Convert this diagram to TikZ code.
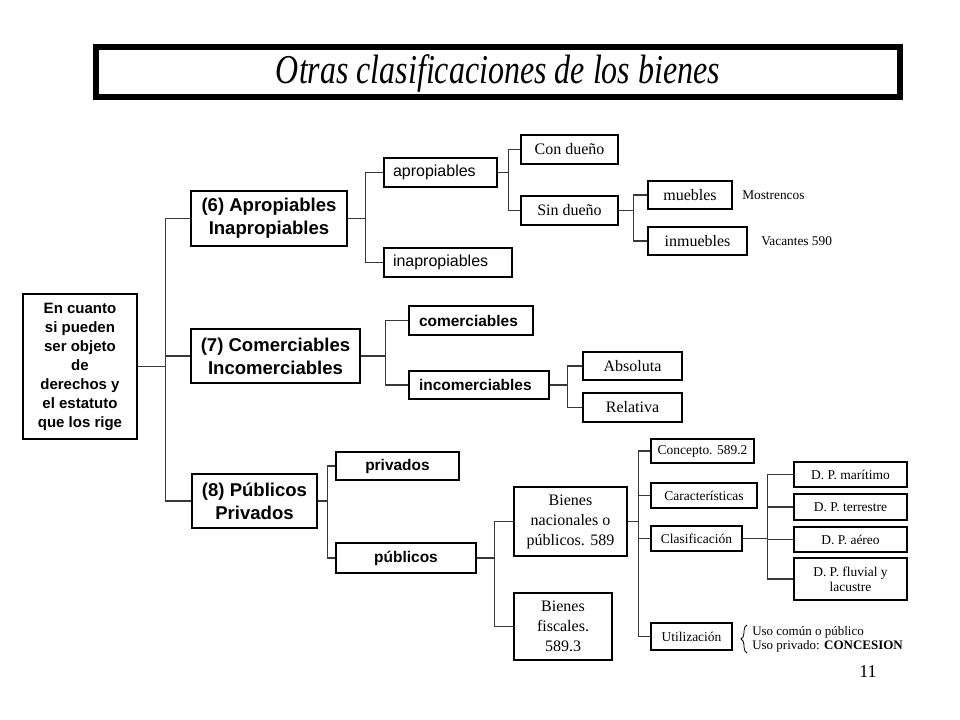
\documentclass[tikz,border=0pt]{standalone}
\usepackage{fontspec}
\usepackage{graphicx}
\setmainfont{Liberation Serif}
\newfontfamily\arial{Liberation Sans}
\usetikzlibrary{decorations.pathreplacing}
\tikzset{
  bx/.style 2 args={draw=black, line width=0.8pt, minimum width=#1*0.75pt, minimum height=#2*0.75pt, inner sep=0pt, align=center},
  conn/.style={draw=black!78, line width=0.9pt},
  sansbig/.style={font=\arial\bfseries\fontsize{13.9}{17.25}\selectfont},
  sansreg/.style={font=\arial\fontsize{12}{14}\selectfont},
  sansbold/.style={font=\arial\bfseries\fontsize{11.6}{14}\selectfont},
  serifmid/.style={font=\fontsize{12}{15}\selectfont},
  serifsmall/.style={font=\fontsize{10.1}{11.25}\selectfont},
}
\newcommand\fork[3]{%
  \draw[conn] (#1.east) -- ++(#2,0) coordinate (fk);
  \foreach \c in {#3} {\draw[conn] (fk) |- (\c.west);}%
}
\begin{document}
\begin{tikzpicture}[x=0.75pt,y=-0.75pt]
\fill[white] (0,0) rectangle (960,720);
\useasboundingbox (0,0) rectangle (960,720);

% title
\draw[line width=4.5pt] (96,47) rectangle (900,97);
\node (title) at (498,73) {\scalebox{0.78}[1]{\fontsize{30.75}{34}\selectfont\itshape Otras clasificaciones de los bienes}};

% root
\node[bx={114}{145}, font=\arial\bfseries\fontsize{11.25}{14.25}\selectfont] (root) at (80,366.5)
  {En cuanto\\si pueden\\ser objeto\\de\\derechos y\\el estatuto\\que los rige};

% level 1
\node[bx={156}{55}, sansbig] (n6) at (269,218.5) {(6) Apropiables\\Inapropiables};
\node[bx={169}{54}, sansbig] (n7) at (275.5,356) {(7) Comerciables\\Incomerciables};
\node[bx={125}{54}, sansbig] (n8) at (254.5,501) {(8) Públicos\\Privados};

% branch 6
\node[draw, line width=0.8pt, sansreg, text width=71.25pt, inner xsep=6.75pt, inner ysep=0pt, minimum height=21.75pt, align=left] (aprop) at (440.5,172.5) {apropiables};
\node[draw, line width=0.8pt, sansreg, text width=82.5pt, inner xsep=6.75pt, inner ysep=0pt, minimum height=21.75pt, align=left] (inaprop) at (448,262.5) {inapropiables};
\node[bx={97}{29}, serifmid] (condueno) at (569.5,149.5) {Con dueño};
\node[bx={97}{29}, serifmid] (sindueno) at (569.5,210.5) {Sin dueño};
\node[bx={84}{28}, serifmid] (muebles) at (690,195) {muebles};
\node[bx={99}{28}, serifmid] (inmuebles) at (697.5,241) {inmuebles};
\node[anchor=west, inner sep=0pt, font=\fontsize{10}{12}\selectfont] (mostr) at (742,195) {Mostrencos};
\node[anchor=west, inner sep=0pt, font=\fontsize{10}{12}\selectfont] (vac) at (761,241) {Vacantes 590};

% branch 7
\node[draw, line width=0.8pt, sansbold, text width=78pt, inner xsep=7.5pt, inner ysep=0pt, minimum height=21.75pt, align=left] (comerc) at (471,320.5) {comerciables};
\node[draw, line width=0.8pt, sansbold, text width=90pt, inner xsep=7.5pt, inner ysep=0pt, minimum height=21pt, align=left] (incomerc) at (479,385) {incomerciables};
\node[bx={99}{28}, serifmid] (absoluta) at (632.5,366) {Absoluta};
\node[bx={99}{29}, serifmid] (relativa) at (632.5,407.5) {Relativa};

% branch 8
\node[bx={123}{28}, sansbold] (privados) at (397.5,466) {privados};
\node[bx={140}{30}, sansbold] (publicos) at (406,558) {públicos};
\node[bx={113}{69}, serifmid] (bnac) at (570.5,521.5) {Bienes\\nacionales o\\públicos. 589};
\node[bx={98}{67}, serifmid] (bfisc) at (563,626.5) {Bienes\\fiscales.\\589.3};
\node[bx={103}{24}, serifsmall] (concepto) at (702.5,451) {Concepto. 589.2};
\node[bx={106}{25}, serifsmall] (caract) at (704,495.5) {Características};
\node[bx={91}{25}, serifsmall] (clasif) at (696.5,538.5) {Clasificación};
\node[bx={81}{27}, serifsmall] (utiliz) at (691.5,636.5) {Utilización};
\node[bx={113}{25}, serifsmall] (dp1) at (850.5,474.5) {D. P. marítimo};
\node[bx={113}{26}, serifsmall] (dp2) at (850.5,507) {D. P. terrestre};
\node[bx={113}{25}, serifsmall] (dp3) at (850.5,539.5) {D. P. aéreo};
\node[bx={113}{42}, serifsmall] (dp4) at (850.5,579) {D. P. fluvial y\\lacustre};

% brace and uses
\draw[line width=0.6pt, decorate, decoration={brace, amplitude=4.5pt}] (747,653) -- (747,625);
\node[anchor=west, inner sep=0pt, align=left, font=\fontsize{9.75}{10.5}\selectfont] (uso) at (752,639)
  {Uso común o público\\Uso privado: \textbf{CONCESION}};

% page number
\node[font=\fontsize{13.5}{16}\selectfont] (pnum) at (868,672) {11};

% connectors
\fork{root}{28}{n6,n7,n8}
\fork{n6}{18}{aprop,inaprop}
\fork{aprop}{11}{condueno,sindueno}
\fork{sindueno}{15}{muebles,inmuebles}
\fork{n7}{25}{comerc,incomerc}
\fork{incomerc}{18}{absoluta,relativa}
\fork{n8}{10}{privados,publicos}
\fork{publicos}{18}{bnac,bfisc}
\fork{bnac}{11}{concepto,caract,clasif,utiliz}
\fork{clasif}{25}{dp1,dp2,dp3,dp4}
\end{tikzpicture}
\end{document}
